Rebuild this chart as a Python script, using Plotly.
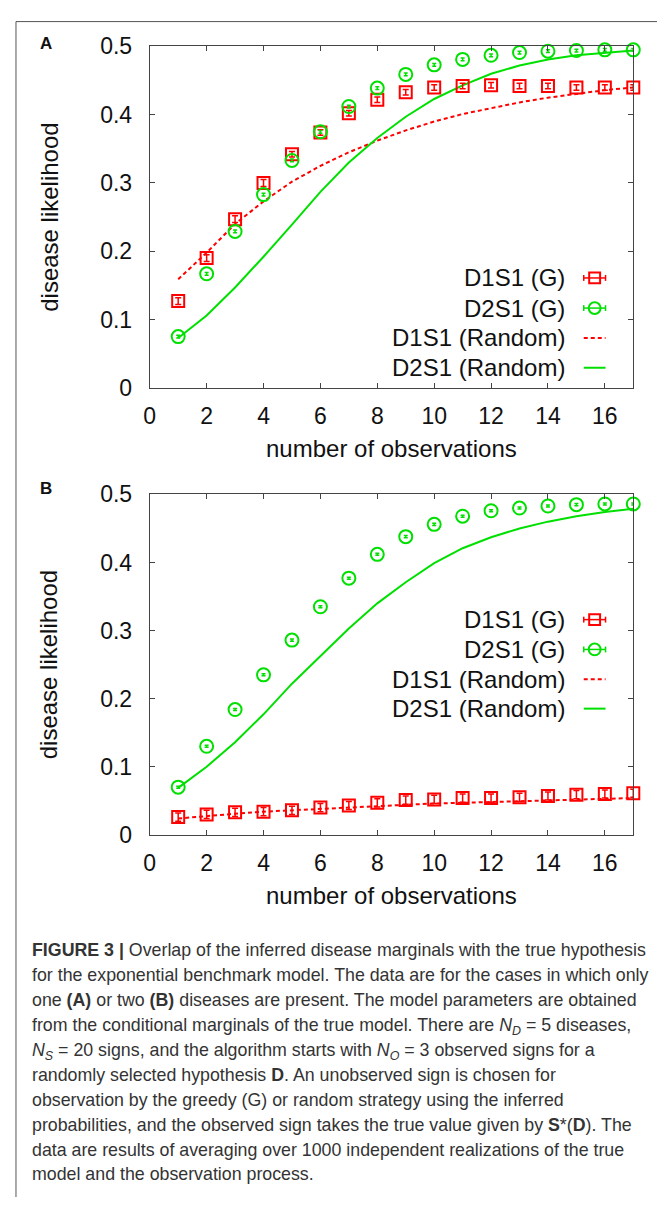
import plotly.graph_objects as go

# The page body keeps the browser's default 8px margin, so the figure is
# placed 8px in from the window's top-left corner; page positions are
# converted to figure positions through px()/py().
PAGE_W, PAGE_H = 665, 1205
OFF = 8
W, H = PAGE_W - OFF, PAGE_H - 2 * OFF

# ---------------- data ----------------
obs = [1, 2, 3, 4, 5, 6, 7, 8, 9, 10, 11, 12, 13, 14, 15, 16, 17]
x_ticks = [0, 2, 4, 6, 8, 10, 12, 14, 16]
y_ticks = [0, 0.1, 0.2, 0.3, 0.4, 0.5]
y_tick_labels = ["0", "0.1", "0.2", "0.3", "0.4", "0.5"]

# Panel A (one disease present)
a_d1s1_g = [0.127, 0.190, 0.247, 0.300, 0.342, 0.374, 0.402, 0.422, 0.433, 0.440,
            0.442, 0.443, 0.442, 0.442, 0.440, 0.440, 0.440]
a_d1s1_g_err = [0.005, 0.005, 0.005, 0.005, 0.004, 0.004, 0.004, 0.004, 0.004, 0.004,
                0.004, 0.004, 0.004, 0.004, 0.004, 0.004, 0.004]
a_d2s1_g = [0.075, 0.167, 0.229, 0.283, 0.333, 0.375, 0.412, 0.439, 0.459, 0.473,
            0.481, 0.487, 0.491, 0.493, 0.494, 0.495, 0.495]
a_d2s1_g_err = [0.002, 0.002, 0.002, 0.002, 0.002, 0.002, 0.002, 0.002, 0.002, 0.002,
                0.002, 0.002, 0.002, 0.002, 0.002, 0.002, 0.002]
a_d1s1_r = [0.159, 0.198, 0.240, 0.273, 0.302, 0.325, 0.345, 0.362, 0.377, 0.390,
            0.401, 0.410, 0.418, 0.425, 0.431, 0.436, 0.440]
a_d2s1_r = [0.073, 0.106, 0.147, 0.192, 0.239, 0.287, 0.330, 0.366, 0.397, 0.423,
            0.443, 0.460, 0.472, 0.481, 0.487, 0.491, 0.494]

# Panel B (two diseases present)
b_d1s1_g = [0.026, 0.030, 0.033, 0.034, 0.036, 0.040, 0.043, 0.047, 0.051, 0.052,
            0.054, 0.054, 0.055, 0.057, 0.059, 0.060, 0.061]
b_d1s1_g_err = [0.006, 0.006, 0.006, 0.006, 0.006, 0.006, 0.006, 0.006, 0.006, 0.006,
                0.006, 0.006, 0.006, 0.006, 0.006, 0.006, 0.006]
b_d2s1_g = [0.070, 0.130, 0.184, 0.235, 0.286, 0.335, 0.377, 0.412, 0.438, 0.456,
            0.468, 0.476, 0.480, 0.483, 0.485, 0.486, 0.486]
b_d2s1_g_err = [0.0015, 0.0015, 0.0015, 0.0015, 0.0015, 0.0015, 0.0015, 0.0015, 0.0015, 0.0015,
                0.0015, 0.0015, 0.0015, 0.0015, 0.0015, 0.0015, 0.0015]
b_d1s1_r = [0.024, 0.028, 0.031, 0.034, 0.036, 0.038, 0.041, 0.043, 0.045, 0.046,
            0.047, 0.048, 0.049, 0.051, 0.052, 0.053, 0.054]
b_d2s1_r = [0.069, 0.100, 0.136, 0.177, 0.222, 0.263, 0.303, 0.340, 0.371, 0.399,
            0.421, 0.437, 0.450, 0.460, 0.468, 0.474, 0.479]

legend_labels = ["D1S1 (G)", "D2S1 (G)", "D1S1 (Random)", "D2S1 (Random)"]

caption_lines = [
    "<b>FIGURE 3 |</b> Overlap of the inferred disease marginals with the true hypothesis",
    "for the exponential benchmark model. The data are for the cases in which only",
    "one <b>(A)</b> or two <b>(B)</b> diseases are present. The model parameters are obtained",
    "from the conditional marginals of the true model. There are <i>N</i><sub><i>D</i></sub> = 5 diseases,",
    "<i>N</i><sub><i>S</i></sub> = 20 signs, and the algorithm starts with <i>N</i><sub><i>O</i></sub> = 3 observed signs for a",
    "randomly selected hypothesis <b>D</b>. An unobserved sign is chosen for",
    "observation by the greedy (G) or random strategy using the inferred",
    "probabilities, and the observed sign takes the true value given by <b>S</b>*(<b>D</b>). The",
    "data are results of averaging over 1000 independent realizations of the true",
    "model and the observation process.",
]

# ---------------- styling ----------------
RED = "#ff0000"
GREEN = "#00e000"
AXC = "#444444"
FONT = "Liberation Sans, Arial, sans-serif"
FS_TICK = 23
FS = 24


def px(x):
    return (x - OFF) / W


def py(y):
    return 1 - (y - OFF) / H


fig = go.Figure()


def add_panel(xa, ya, d1g, d1g_err, d2g, d2g_err, d1r, d2r):
    fig.add_trace(go.Scatter(x=obs, y=d1r, mode="lines", xaxis=xa, yaxis=ya,
                             line=dict(color=RED, width=2, dash="4px,3px"),
                             name=legend_labels[2], showlegend=False))
    fig.add_trace(go.Scatter(x=obs, y=d2r, mode="lines", xaxis=xa, yaxis=ya,
                             line=dict(color=GREEN, width=2),
                             name=legend_labels[3], showlegend=False))
    fig.add_trace(go.Scatter(x=obs, y=d1g, mode="markers", xaxis=xa, yaxis=ya,
                             marker=dict(symbol="square-open", size=12, color=RED,
                                         line=dict(width=2, color=RED)),
                             error_y=dict(type="data", array=d1g_err, visible=True,
                                          color=RED, thickness=1.5, width=3),
                             cliponaxis=False, name=legend_labels[0], showlegend=False))
    fig.add_trace(go.Scatter(x=obs, y=d2g, mode="markers", xaxis=xa, yaxis=ya,
                             marker=dict(symbol="circle-open", size=13, color=GREEN,
                                         line=dict(width=2, color=GREEN)),
                             error_y=dict(type="data", array=d2g_err, visible=True,
                                          color=GREEN, thickness=1.5, width=2),
                             cliponaxis=False, name=legend_labels[1], showlegend=False))


add_panel("x", "y", a_d1s1_g, a_d1s1_g_err, a_d2s1_g, a_d2s1_g_err, a_d1s1_r, a_d2s1_r)
add_panel("x2", "y2", b_d1s1_g, b_d1s1_g_err, b_d2s1_g, b_d2s1_g_err, b_d1s1_r, b_d2s1_r)

x_dom = [px(145), px(633)]
axis_common = dict(showline=True, linecolor=AXC, linewidth=1, mirror="ticks",
                   ticks="inside", ticklen=5, tickcolor=AXC, tickwidth=1,
                   showgrid=False, zeroline=False,
                   tickfont=dict(family=FONT, size=FS_TICK, color="#111"))

fig.update_layout(
    width=W, height=H,
    margin=dict(l=0, r=0, t=0, b=0),
    paper_bgcolor="white", plot_bgcolor="white",
    showlegend=False,
    xaxis=dict(domain=x_dom, range=[0, 17], tickvals=x_ticks, anchor="y",
               ticklabelstandoff=8, **axis_common),
    yaxis=dict(domain=[py(383), py(34)], range=[0, 0.5], tickvals=y_ticks,
               ticktext=y_tick_labels, anchor="x", ticklabelstandoff=12, **axis_common),
    xaxis2=dict(domain=x_dom, range=[0, 17], tickvals=x_ticks, anchor="y2",
                ticklabelstandoff=8, **axis_common),
    yaxis2=dict(domain=[py(840), py(492)], range=[0, 0.5], tickvals=y_ticks,
                ticktext=y_tick_labels, anchor="x2", ticklabelstandoff=12, **axis_common),
)

annotations = []
shapes = []

# outer frame (its top edge sits just inside the drawable area)
shapes.append(dict(type="rect", xref="paper", yref="paper",
                   x0=px(10), x1=px(663), y0=py(8.6), y1=-0.02,
                   line=dict(color="#555555", width=1)))

# axis titles, panel letters, manual legends
for (top, bottom, letter_y, title_y, leg_rows) in [
        (34, 383, 31, 445, [270.7, 301.5, 332, 362.5]),
        (492, 840, 486, 902, [620, 650.5, 681, 711])]:
    annotations.append(dict(text="disease likelihood", xref="paper", yref="paper",
                            x=px(43), y=py((top + bottom) / 2), textangle=-90,
                            xanchor="center", yanchor="middle", showarrow=False,
                            font=dict(family=FONT, size=FS, color="#111")))
    annotations.append(dict(text="number of observations", xref="paper", yref="paper",
                            x=px(389), y=py(title_y), xanchor="center", yanchor="middle",
                            showarrow=False, font=dict(family=FONT, size=FS, color="#111")))
    annotations.append(dict(text="<b>%s</b>" % ("A" if top == 34 else "B"),
                            xref="paper", yref="paper", x=px(40), y=py(letter_y),
                            xanchor="center", yanchor="middle", showarrow=False,
                            font=dict(family=FONT, size=17, color="#111")))
    for lab, ry in zip(legend_labels, leg_rows):
        annotations.append(dict(text=lab, xref="paper", yref="paper",
                                x=px(566), y=py(ry), xanchor="right", yanchor="middle",
                                showarrow=False, font=dict(family=FONT, size=FS, color="#111")))
    cx = 594
    # D1S1 (G): square with horizontal error bar
    r0 = leg_rows[0]
    shapes.append(dict(type="rect", xref="paper", yref="paper",
                       x0=px(cx - 5.5), x1=px(cx + 5.5), y0=py(r0 + 5.5), y1=py(r0 - 5.5),
                       line=dict(color=RED, width=2)))
    shapes.append(dict(type="line", xref="paper", yref="paper",
                       x0=px(cx - 11), x1=px(cx + 11), y0=py(r0), y1=py(r0),
                       line=dict(color=RED, width=1.5)))
    for ex in (cx - 11, cx + 11):
        shapes.append(dict(type="line", xref="paper", yref="paper",
                           x0=px(ex), x1=px(ex), y0=py(r0 - 3), y1=py(r0 + 3),
                           line=dict(color=RED, width=1.5)))
    # D2S1 (G): circle with horizontal error bar
    r1 = leg_rows[1]
    shapes.append(dict(type="circle", xref="paper", yref="paper",
                       x0=px(cx - 6), x1=px(cx + 6), y0=py(r1 + 6), y1=py(r1 - 6),
                       line=dict(color=GREEN, width=2)))
    shapes.append(dict(type="line", xref="paper", yref="paper",
                       x0=px(cx - 11), x1=px(cx + 11), y0=py(r1), y1=py(r1),
                       line=dict(color=GREEN, width=1.5)))
    for ex in (cx - 11, cx + 11):
        shapes.append(dict(type="line", xref="paper", yref="paper",
                           x0=px(ex), x1=px(ex), y0=py(r1 - 3), y1=py(r1 + 3),
                           line=dict(color=GREEN, width=1.5)))
    # D1S1 (Random): dashed red
    r2 = leg_rows[2]
    shapes.append(dict(type="line", xref="paper", yref="paper",
                       x0=px(cx - 11), x1=px(cx + 11), y0=py(r2), y1=py(r2),
                       line=dict(color=RED, width=2, dash="4px,3px")))
    # D2S1 (Random): solid green
    r3 = leg_rows[3]
    shapes.append(dict(type="line", xref="paper", yref="paper",
                       x0=px(cx - 11), x1=px(cx + 11), y0=py(r3), y1=py(r3),
                       line=dict(color=GREEN, width=2)))

# caption
cap_centers = [958, 983.5, 1009, 1034.5, 1060, 1085.5, 1111, 1136.5, 1162, 1187]
for line, cy in zip(caption_lines, cap_centers):
    annotations.append(dict(text=line, xref="paper", yref="paper",
                            x=px(24), y=py(cy - 12), xanchor="left", yanchor="top",
                            align="left", showarrow=False,
                            font=dict(family=FONT, size=17.8, color="#333333")))

fig.update_layout(annotations=annotations, shapes=shapes)

fig.write_html("out.html", config={"displayModeBar": False})
